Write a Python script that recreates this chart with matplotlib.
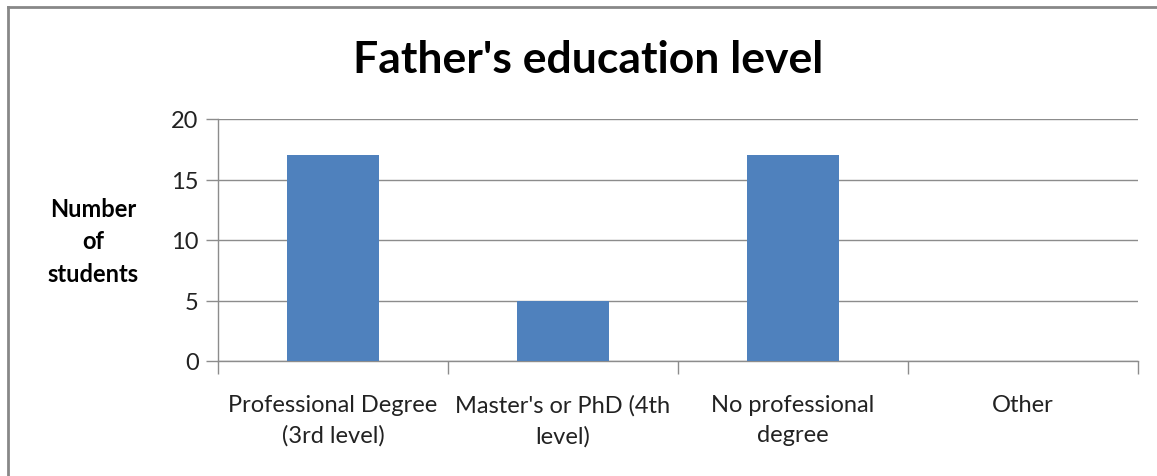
import matplotlib
matplotlib.use("Agg")
import matplotlib.pyplot as plt
from matplotlib.lines import Line2D

categories = ["Professional Degree\n(3rd level)", "Master's or PhD (4th\nlevel)",
              "No professional\ndegree", "Other"]
counts = [17, 5, 17, 0]
yticks = [0, 5, 10, 15, 20]

plt.rcParams['font.family'] = ['Lato', 'DejaVu Sans']

W, H = 1157, 477
fig = plt.figure(figsize=(W / 100, H / 100), dpi=100)

# axes box in pixels: left 218, right 1138, top 120, bottom 362
ax = fig.add_axes([218 / W, 1 - 362 / H, (1138 - 218) / W, (362 - 120) / H])

x = list(range(len(categories)))
ax.bar(x, counts, width=0.4, color="#4F81BD", zorder=3)

ax.set_xlim(-0.5, len(categories) - 0.5)
ax.set_ylim(0, 20)
ax.set_yticks(yticks)
ax.set_xticks(x)
ax.set_xticklabels(categories, fontsize=17, color="#222222", linespacing=1.5)
ax.tick_params(axis="x", length=0, pad=24)
ax.set_xticks([i - 0.5 for i in range(len(categories) + 1)], minor=True)
ax.tick_params(axis="x", which="minor", length=9, width=1, color="#8c8c8c")
ax.tick_params(axis="y", length=9, width=1, color="#8c8c8c", labelsize=17,
               labelcolor="#222222", pad=5)

ax.grid(axis="y", color="#8c8c8c", linewidth=1, zorder=0)
for side in ["top", "right"]:
    ax.spines[side].set_visible(False)
for side in ["left", "bottom"]:
    ax.spines[side].set_color("#8c8c8c")
    ax.spines[side].set_linewidth(1)

fig.text(588 / W, 1 - 60 / H, "Father's education level", ha="center", va="center",
         fontsize=32, fontweight="bold", color="black")
fig.text(93 / W, 1 - 242 / H, "Number\nof\nstudents", ha="center", va="center",
         fontsize=17, fontweight="bold", color="black", linespacing=1.5)

# outer chart border (top and left visible)
fig.add_artist(Line2D([8 / W, 8 / W], [0, 1 - 8 / H], transform=fig.transFigure,
                      color="#888888", linewidth=2))
fig.add_artist(Line2D([8 / W, 1], [1 - 8 / H, 1 - 8 / H], transform=fig.transFigure,
                      color="#888888", linewidth=2))

fig.savefig("out.png", dpi=100)
